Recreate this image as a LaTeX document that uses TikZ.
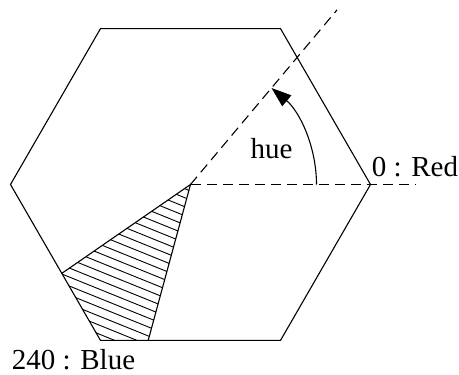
\documentclass[tikz,border=0pt]{standalone}
\usepackage{fontspec}
\setmainfont{Liberation Serif}
\usetikzlibrary{calc,arrows.meta}
\begin{document}
\begin{tikzpicture}[x=1pt,y=-1pt,
  edge/.style={line width=1.1pt, line join=miter},
  dashline/.style={line width=1.1pt, dash pattern=on 10pt off 6pt},
  hatch/.style={line width=0.9pt},
  lbl/.style={font=\fontsize{29}{35}\selectfont, inner sep=0pt, anchor=base}]
\useasboundingbox (0,0) rectangle (459,375);
\coordinate (C) at (190.5,184.5);
\coordinate (R) at (370.5,184.5);
\coordinate (TR) at (280.5,28.6);
\coordinate (TL) at (100.5,28.6);
\coordinate (L) at (10.5,184.5);
\coordinate (BL) at (100.5,340.4);
\coordinate (BR) at (280.5,340.4);
\coordinate (P) at ($(L)!0.57!(BL)$);
\coordinate (Q) at ($(BL)!0.265!(BR)$);
\coordinate (Hend) at (415,184.5);
\coordinate (Dend) at ($(C)+(-50:228)$);
\coordinate (A0) at ($(C)+(126,0)$);
% hatching
\begin{scope}
  \clip (C) -- (P) -- (BL) -- (Q) -- cycle;
  \foreach \k in {-120,-111,...,360}
    \draw[hatch] (0,\k) -- (460,\k+186);
\end{scope}
% hexagon
\draw[edge] (R) -- (TR) -- (TL) -- (L) -- (BL) -- (BR) -- cycle;
\draw[edge] (P) -- (C) -- (Q);
% dashed lines
\draw[dashline] (C) -- (Hend);
\draw[dashline] (C) -- (Dend);
% hue arc
\draw[edge,-{Triangle[length=20pt,width=14pt]}] (A0) arc[start angle=0,end angle=-50,radius=126];
% labels
\node[lbl] (hue) at (271.5,158) {hue};
\node[lbl] (red) at (415,176) {0 : Red};
\node[lbl] (blue) at (73.5,369) {240 : Blue};
\end{tikzpicture}
\end{document}
